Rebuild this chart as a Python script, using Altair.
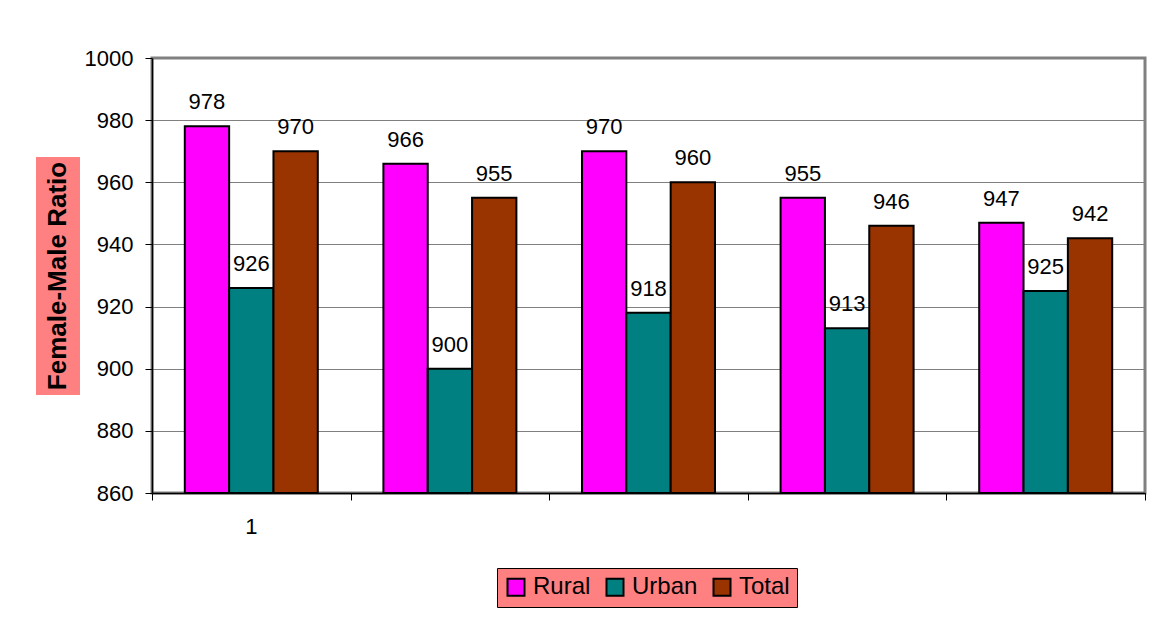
import altair as alt
import pandas as pd

# ---- data ----
groups = ["1", "2", "3", "4", "5"]
x_tick_labels = ["1", "", "", "", ""]
series = ["Rural", "Urban", "Total"]
rural = [978, 966, 970, 955, 947]
urban = [926, 900, 918, 913, 925]
total = [970, 955, 960, 946, 942]
colors = ["#FF00FF", "#008080", "#993300"]
y_ticks = [860, 880, 900, 920, 940, 960, 980, 1000]
y_title = "Female-Male Ratio"

FONT = "Liberation Sans"

rows = []
for s, vals in zip(series, [rural, urban, total]):
    for g, v in zip(groups, vals):
        rows.append({"group": g, "series": s, "value": v})
df = pd.DataFrame(rows)
lab_df = pd.DataFrame({"group": groups, "label": x_tick_labels})

x_enc = alt.X(
    "group:N",
    sort=groups,
    scale=alt.Scale(domain=groups, paddingInner=0, paddingOuter=0),
    axis=alt.Axis(
        title=None, labels=False, tickBand="extent", tickSize=7,
        tickColor="black", domainColor="black", domainWidth=1.5, grid=False,
    ),
)
xoff_enc = alt.XOffset(
    "series:N", scale=alt.Scale(domain=series, paddingInner=0, paddingOuter=0.74)
)
y_enc = alt.Y(
    "value:Q",
    scale=alt.Scale(domain=[860, 1000], zero=False, nice=False),
    axis=alt.Axis(
        title=None, values=y_ticks, format="d", tickSize=7, tickColor="black",
        domainColor="black", domainWidth=1.5, gridColor="#808080", gridWidth=1,
        labelFontSize=22, labelFont=FONT, labelColor="black", labelPadding=12,
    ),
)

base = alt.Chart(df)

bars = base.mark_bar(stroke="black", strokeWidth=2).encode(
    x=x_enc,
    xOffset=xoff_enc,
    y=y_enc,
    y2=alt.datum(860),
    fill=alt.Fill(
        "series:N",
        scale=alt.Scale(domain=series, range=colors),
        legend=alt.Legend(
            title=None, orient="none", legendX=345, legendY=510,
            direction="horizontal", fillColor="#FF8080", strokeColor="black",
            padding=7, symbolType="square", symbolSize=289,
            symbolStrokeColor="black", symbolStrokeWidth=2, symbolOpacity=1,
            labelFontSize=24, labelFont=FONT, labelColor="black",
            columnPadding=11, labelOffset=5,
        ),
    ),
)

labels = base.mark_text(
    fontSize=22, font=FONT, color="black", baseline="alphabetic", dy=-17
).encode(
    x=x_enc, xOffset=xoff_enc, y=y_enc, text=alt.Text("value:Q", format="d")
)

xlabels = alt.Chart(lab_df).mark_text(
    fontSize=22, font=FONT, color="black", baseline="middle"
).encode(
    x=alt.X("group:N", sort=groups),
    y=alt.value(469),
    text="label:N",
)

title_bg = alt.Chart(pd.DataFrame({"t": [y_title]})).mark_rect(
    color="#FF8080"
).encode(
    x=alt.value(-116), x2=alt.value(-72), y=alt.value(99), y2=alt.value(337)
)
title_txt = alt.Chart(pd.DataFrame({"t": [y_title]})).mark_text(
    fontSize=26, font=FONT, fontWeight="bold", color="black", angle=270,
    align="center", baseline="middle",
).encode(
    x=alt.value(-94), y=alt.value(218), text="t:N"
)

chart = alt.layer(title_bg, title_txt, bars, labels, xlabels).properties(
    width=993,
    height=435,
    autosize=alt.AutoSizeParams(type="none"),
    padding={"left": 144, "top": 50, "right": 17, "bottom": 116},
    background="white",
).configure_view(
    stroke="#808080", strokeWidth=3
)

chart.save("out.html", embed_options={"renderer": "svg", "actions": False})
